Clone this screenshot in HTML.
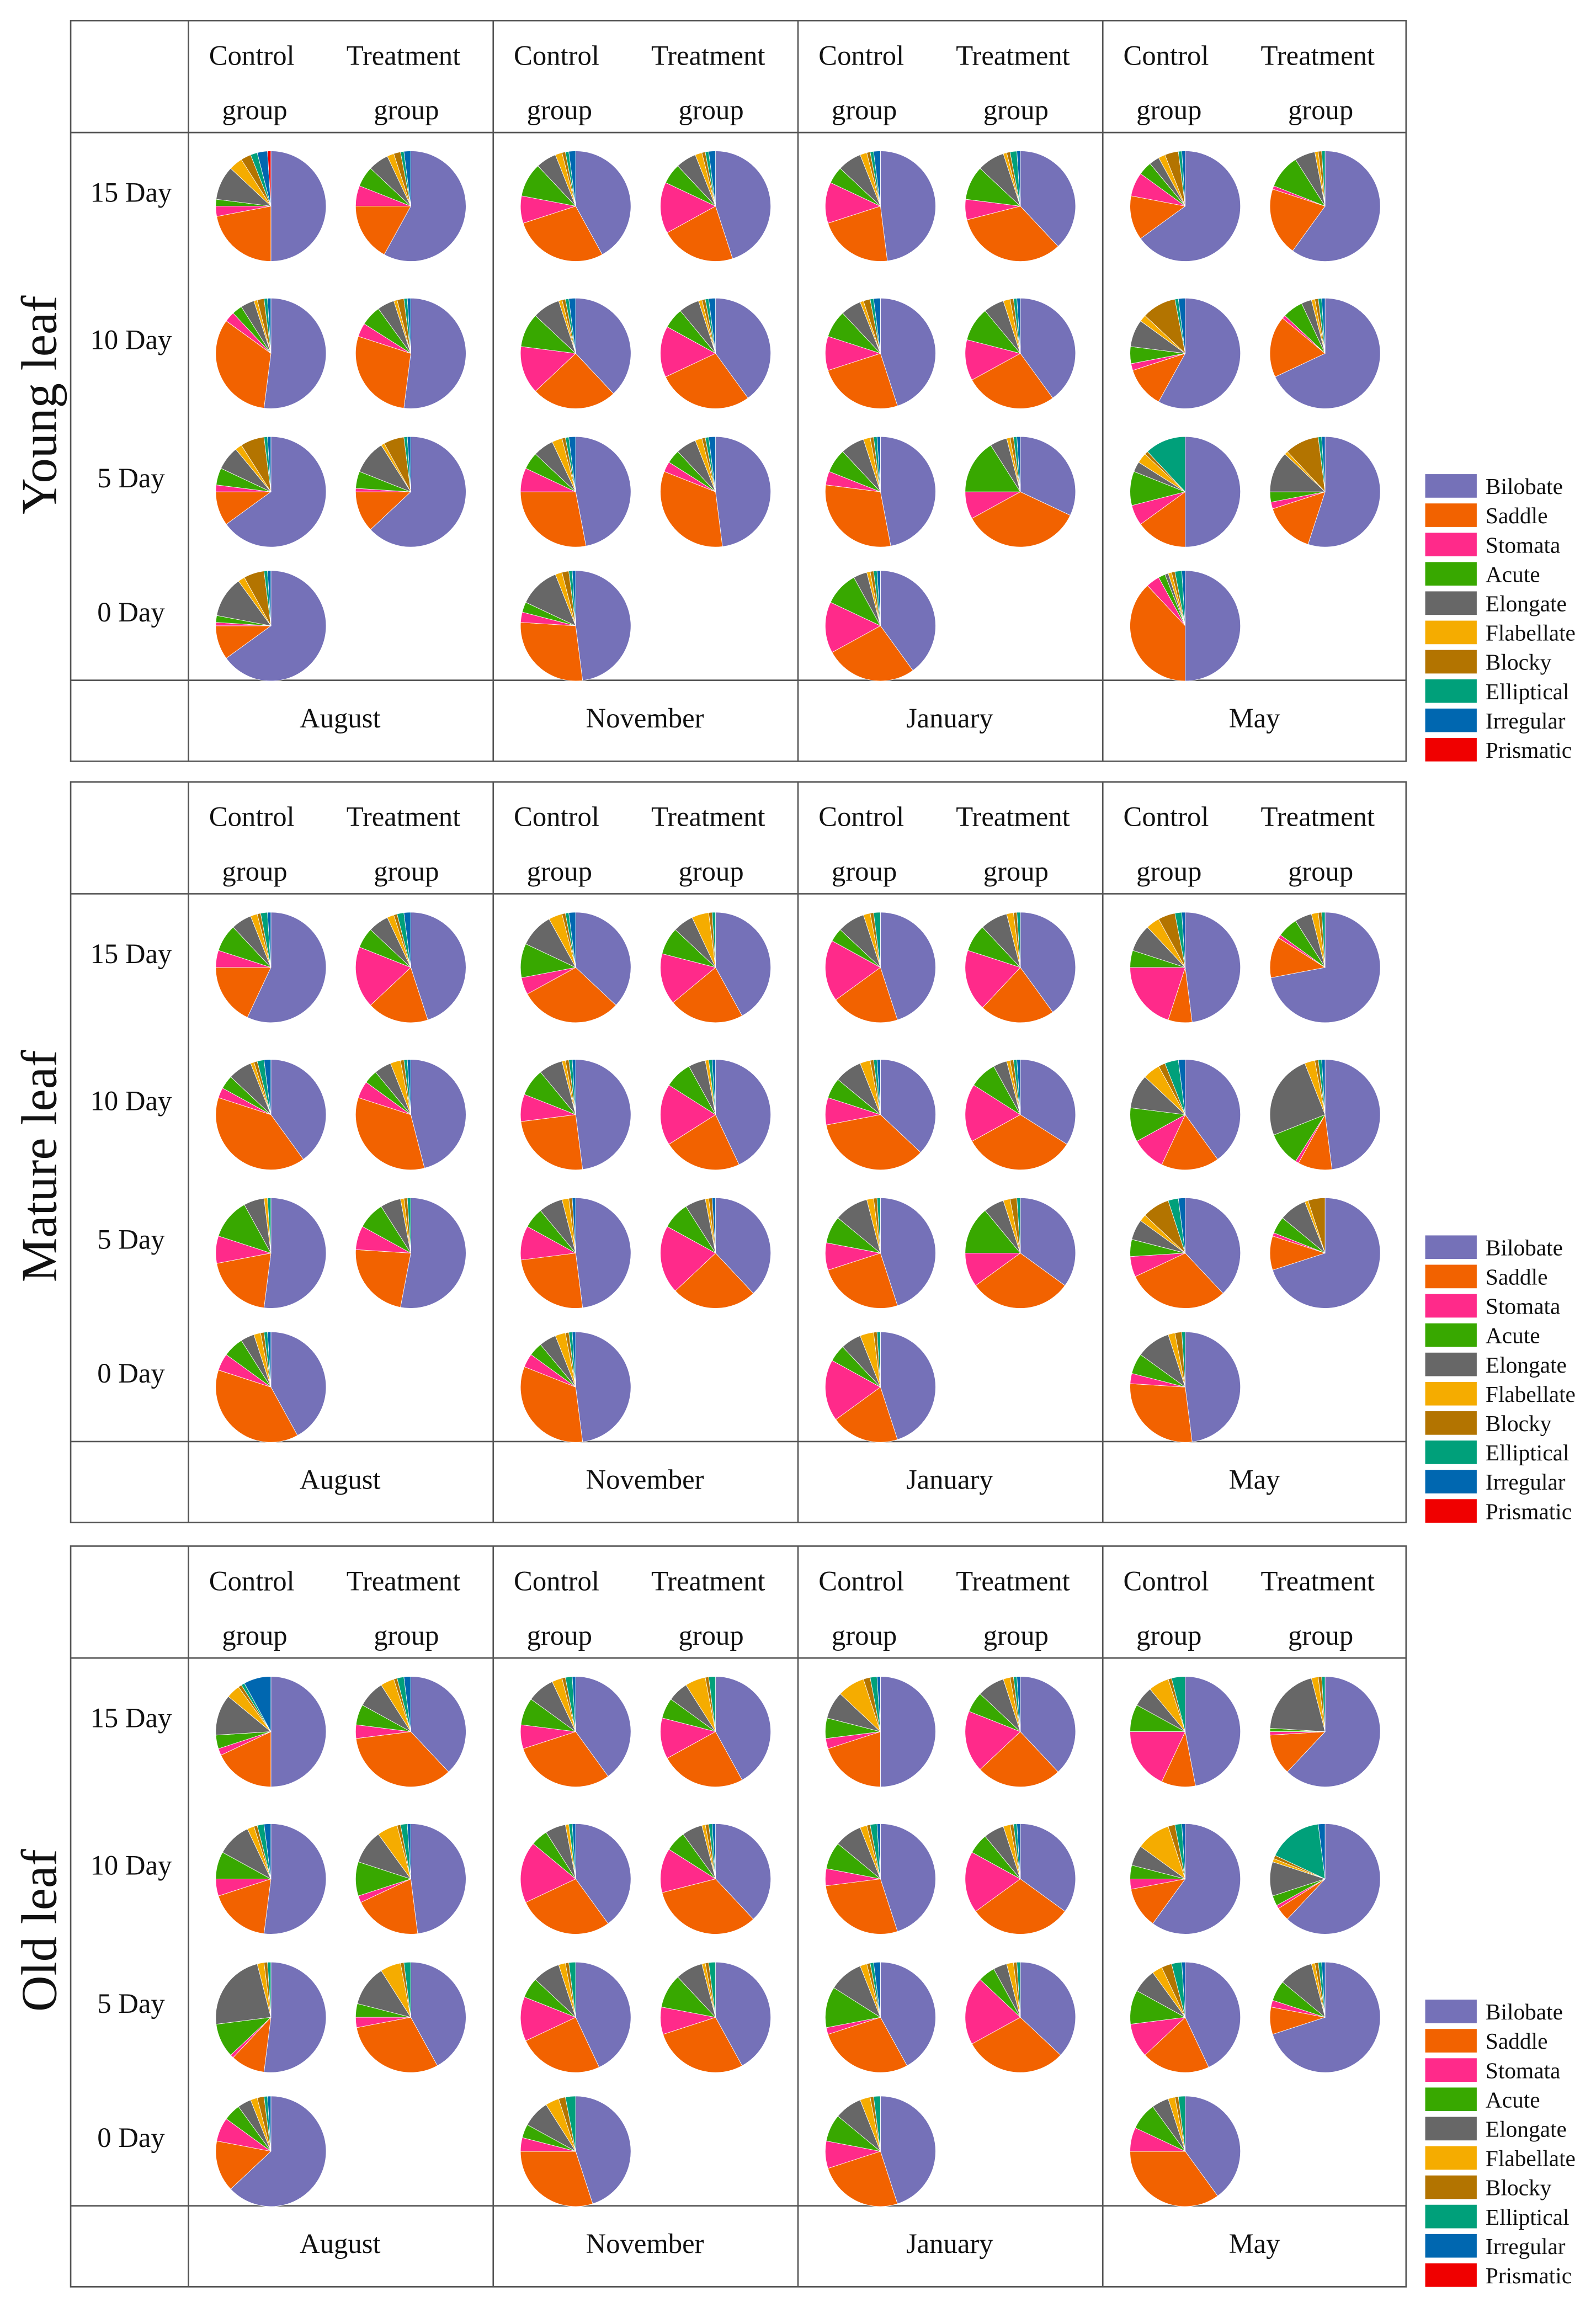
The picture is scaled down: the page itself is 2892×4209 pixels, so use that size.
<!DOCTYPE html>
<html><head><meta charset="utf-8"><style>
html,body{margin:0;padding:0;background:#fff;}
svg{display:block;}
text{font-family:"Liberation Serif",serif;fill:#111;}
</style></head><body>
<svg id="chart" width="2892" height="4209" viewBox="0 0 1084 1577.6" preserveAspectRatio="none" xmlns="http://www.w3.org/2000/svg"></svg>
<script>
const categories=["Bilobate","Saddle","Stomata","Acute","Elongate","Flabellate","Blocky","Elliptical","Irregular","Prismatic"];
const colors=["#7571b8","#f26200","#ff2a8a","#38a800","#676767","#f5ac00","#b37400","#00a07a","#0067b0","#f00000"];
const months=["August","November","January","May"];
const days=["15 Day","10 Day","5 Day","0 Day"];
const panels=["Young leaf","Mature leaf","Old leaf"];
// per month: [C15,T15,C10,T10,C5,T5,C0]
const youngAug=[[50,22,3,2,10,4,3,2,3,1],[58,17,6,6,6,2,2,1,2,0],[52,33,3,3,4,1,2,1,1,0],[52,28,4,6,5,1,2,1,1,0],[65,10,2,5,7,2,7,1,1,0],[63,12,1,5,10,1,6,1,1,0],[65,10,1,2,12,2,6,1,1,0]];
const youngNov=[[42,28,8,10,6,2,1,1,2,0],[45,22,15,6,6,2,1,1,2,0],[38,25,14,10,8,1,1,1,2,0],[40,28,15,6,6,1,1,1,2,0],[47,28,7,5,6,3,1,1,2,0],[48,33,3,4,6,2,1,1,2,0],[48,28,3,3,12,2,2,1,1,0]];
const youngJan=[[48,22,12,5,7,2,1,1,2,0],[38,33,6,10,8,1,1,2,1,0],[45,25,10,8,6,1,2,1,2,0],[40,27,12,10,6,2,1,1,1,0],[47,30,4,7,7,2,1,1,1,0],[32,35,8,16,5,1,1,1,1,0],[40,27,15,10,4,1,1,1,1,0]];
const youngMay=[[65,13,7,4,3,2,4,1,1,0],[60,20,1,10,6,1,1,1,0,0],[58,12,2,5,8,2,10,1,2,0],[68,18,1,6,3,1,1,1,1,0],[50,15,6,10,3,3,1,12,0,0],[55,15,2,3,12,1,10,1,1,0],[50,38,4,2,1,1,1,2,1,0]];
const matureAug=[[57,18,5,8,6,2,1,2,1,0],[45,18,18,6,6,2,1,2,2,0],[40,40,3,4,7,1,1,2,2,0],[46,34,5,4,5,3,1,1,1,0],[52,20,8,12,6,1,0,1,0,0],[53,23,7,8,6,1,1,1,0,0],[42,38,5,6,4,2,1,1,1,0]];
const matureNov=[[37,30,5,10,10,4,1,1,2,0],[42,22,15,8,6,5,1,1,0,0],[48,25,8,8,7,1,1,1,1,0],[43,23,18,8,5,1,0,1,1,0],[48,25,10,6,7,2,1,0,1,0],[38,25,20,8,6,1,1,0,1,0],[48,33,4,4,5,3,1,1,1,0]];
const matureJan=[[45,20,18,4,8,2,1,2,0,0],[40,22,18,8,8,2,1,1,0,0],[37,35,8,6,8,3,1,1,1,0],[34,33,17,8,4,1,1,1,1,0],[45,25,8,8,10,2,1,1,0,0],[35,30,10,14,6,2,2,1,0,0],[45,20,18,5,6,4,1,1,0,0]];
const matureMay=[[48,7,20,5,8,4,5,2,1,0],[72,12,1,6,5,2,1,1,0,0],[40,17,10,10,10,5,2,4,2,0],[48,10,1,10,25,3,1,1,1,0],[38,30,6,5,6,2,8,3,2,0],[70,10,1,5,8,1,5,0,0,0],[48,28,3,6,10,2,2,1,0,0]];
const oldAug=[[50,18,2,4,12,4,1,1,8,0],[38,35,4,6,8,4,1,2,2,0],[52,18,5,8,10,2,1,2,2,0],[48,20,2,10,10,6,1,2,1,0],[52,10,1,10,23,2,1,1,0,0],[42,30,3,4,12,6,1,2,0,0],[63,15,7,5,4,2,2,1,1,0]];
const oldNov=[[40,30,7,8,8,3,1,2,1,0],[42,25,12,6,6,6,1,2,0,0],[40,28,18,5,6,1,0,1,1,0],[38,33,13,6,6,1,1,1,1,0],[43,25,13,6,8,2,1,2,0,0],[42,28,8,10,8,1,1,2,0,0],[45,30,4,4,8,4,2,3,0,0]];
const oldJan=[[50,20,3,6,8,8,2,2,1,0],[38,25,18,6,8,2,1,1,1,0],[45,28,5,8,8,2,1,2,1,0],[35,30,18,6,6,2,1,1,1,0],[42,28,2,12,10,2,1,1,2,0],[37,30,20,5,4,2,1,1,0,0],[45,25,8,8,8,3,1,2,0,0]];
const oldMay=[[47,10,18,8,6,6,1,4,0,0],[62,12,1,1,20,2,1,1,0,0],[60,12,3,4,6,10,2,2,1,0],[62,4,1,3,10,1,1,16,2,0],[43,20,10,10,7,3,3,3,1,0],[70,8,2,6,10,1,1,1,1,0],[40,35,7,8,5,2,1,2,0,0]];
const panelData=[[youngAug,youngNov,youngJan,youngMay],[matureAug,matureNov,matureJan,matureMay],[oldAug,oldNov,oldJan,oldMay]];

const NS="http://www.w3.org/2000/svg";
const svg=document.getElementById("chart");
function mk(tag,attrs,parent){const e=document.createElementNS(NS,tag);for(const k in attrs)e.setAttribute(k,attrs[k]);(parent||svg).appendChild(e);return e;}
const offsets=[0,517,1036];
const colX=[48,128,335,542,749,955];
const rowY=[131,231,325,416];
const R=37.5;
function pieX(m,g){return colX[m+2-1]+(g===0?56:151);}
panels.forEach((pname,p)=>{
  const oy=offsets[p];
  const g=mk("g",{},svg);
  
  
  const st={stroke:"#555","stroke-width":"1",fill:"none"};
  mk("rect",Object.assign({x:48,y:14+oy,width:907,height:503},st),g);
  mk("line",Object.assign({x1:48,x2:955,y1:90+oy,y2:90+oy},st),g);
  mk("line",Object.assign({x1:48,x2:955,y1:462+oy,y2:462+oy},st),g);
  for(let i=1;i<5;i++)mk("line",Object.assign({x1:colX[i],x2:colX[i],y1:14+oy,y2:517+oy},st),g);
  const lab=mk("text",{x:0,y:0,"font-size":34,"text-anchor":"middle",transform:`translate(38,${275+oy}) rotate(-90)`},g);
  lab.textContent=pname;
  
  
  months.forEach((mn,m)=>{
    const cx0=colX[m+1];
    [["Control","group",43],["Treatment","group",146]].forEach(([a,b,dx])=>{
      const t1=mk("text",{x:cx0+dx,y:44+oy,"font-size":19,"text-anchor":"middle"},g);t1.textContent=a;
      
      
      const t2=mk("text",{x:cx0+dx+2,y:81+oy,"font-size":19,"text-anchor":"middle"},g);t2.textContent=b;
      
      
    });
    const mt=mk("text",{x:cx0+103,y:494+oy,"font-size":19,"text-anchor":"middle"},g);mt.textContent=mn;
    
    
    panelData[p][m].forEach((vals,k)=>{
      const grp=k===6?0:k%2; const di=Math.floor(k/2);
      const cx=cx0+(grp===0?56:151), cy=rowY[di]+oy+9;
      const total=vals.reduce((s,v)=>s+v,0);
      let a=0;
      const pg=mk("g",{},g);
      
      
      vals.forEach((v,i)=>{
        if(v<=0)return;
        const a0=a/total*2*Math.PI, a1=(a+v)/total*2*Math.PI; a+=v;
        const x0=cx+R*Math.sin(a0),y0=cy-R*Math.cos(a0),x1=cx+R*Math.sin(a1),y1=cy-R*Math.cos(a1);
        const large=(a1-a0)>Math.PI?1:0;
        const s=mk("path",{d:`M${cx},${cy}L${x0},${y0}A${R},${R} 0 ${large} 1 ${x1},${y1}Z`,fill:colors[i],stroke:"#fff","stroke-width":0.3},pg);
        
        
      });
    });
  });
  days.forEach((d,di)=>{
    const t=mk("text",{x:89,y:rowY[di]+6+oy,"font-size":19,"text-anchor":"middle"},g);t.textContent=d;
    
    
  });
  const lg=mk("g",{},g);
  
  
  categories.forEach((c,i)=>{
    const y=322+oy+i*19.9;
    const r=mk("rect",{x:968,y:y,width:35,height:16,fill:colors[i]},lg);
    
    
    const t=mk("text",{x:1009,y:y+13.5,"font-size":15.5},lg);t.textContent=c;
    
    
  });
});
</script>
</body></html>
